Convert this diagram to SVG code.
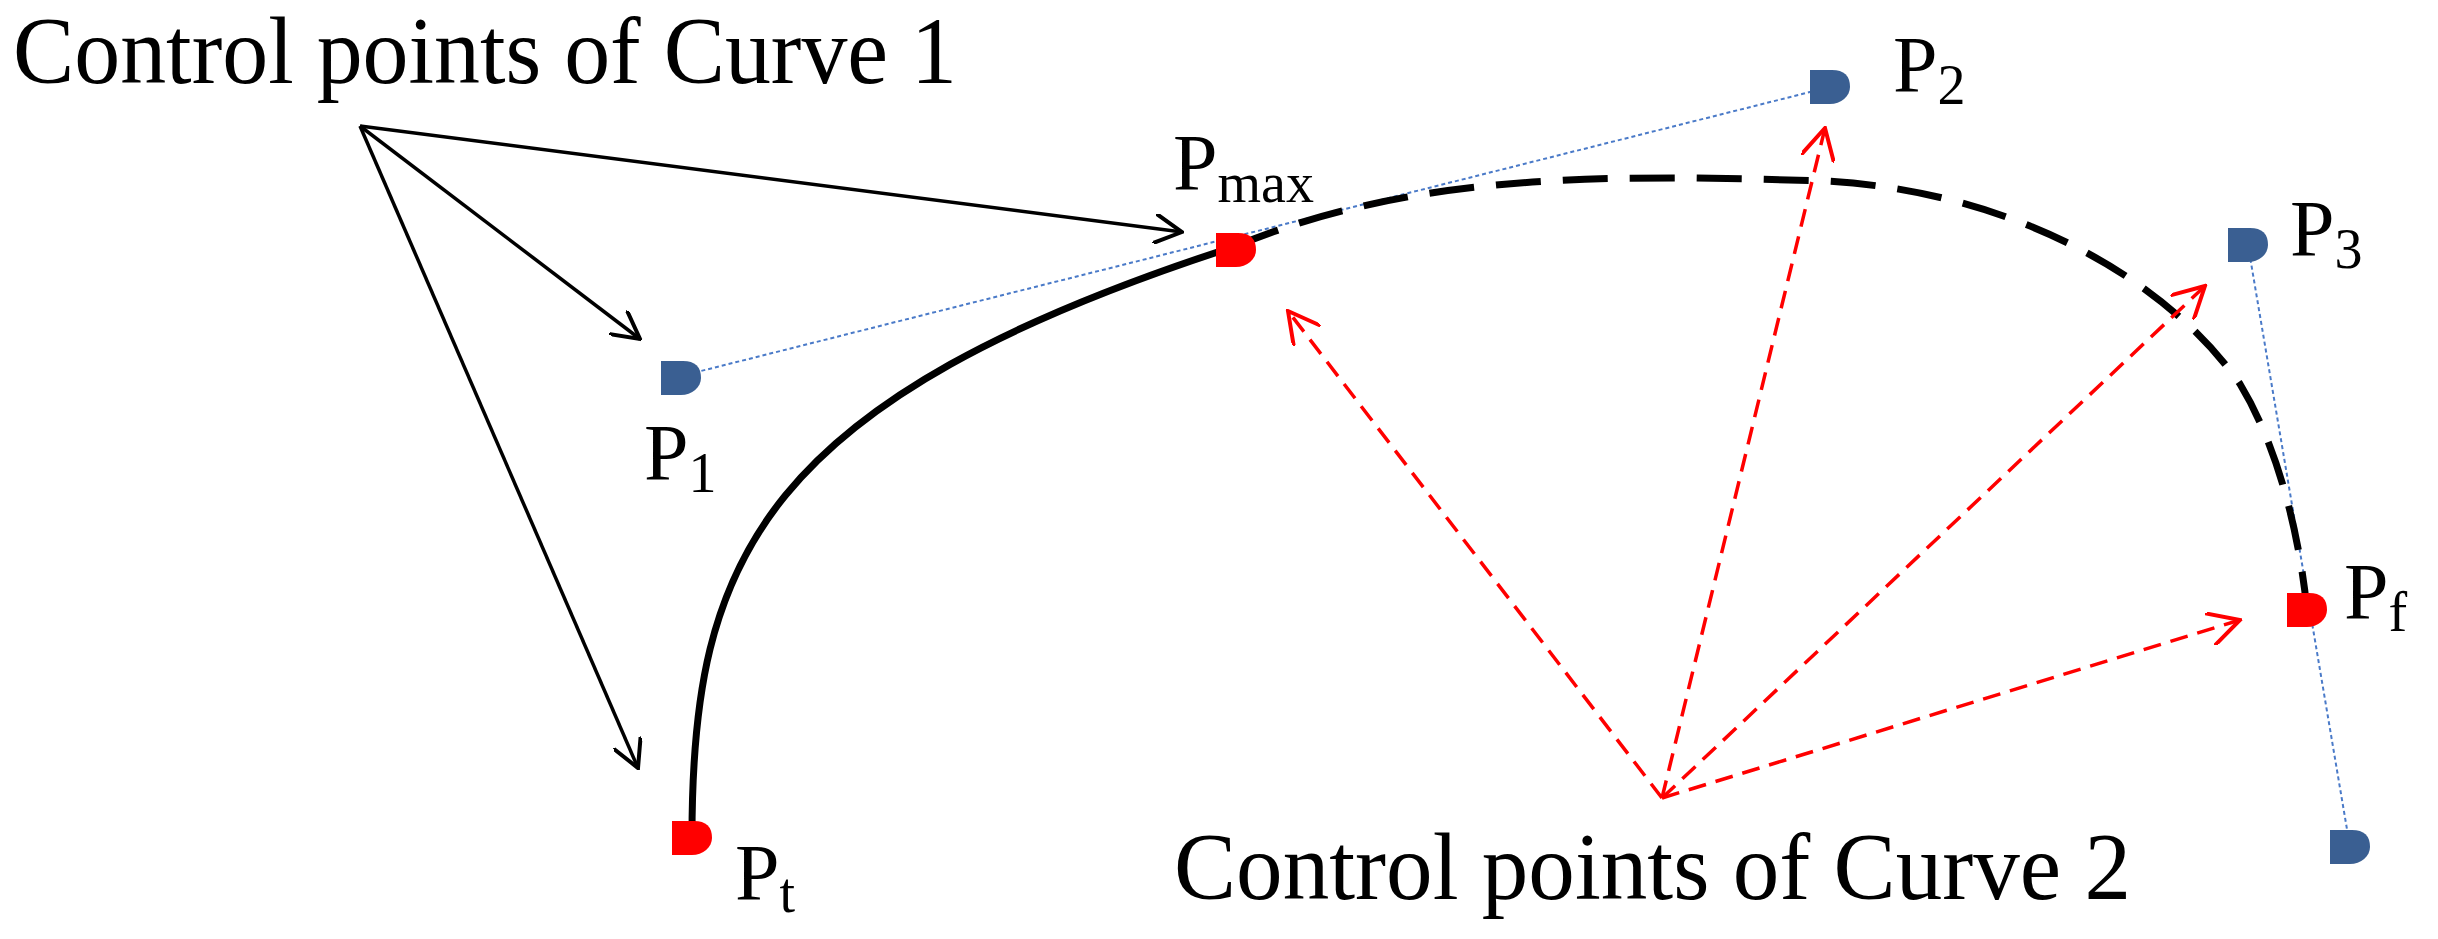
<svg xmlns="http://www.w3.org/2000/svg" width="2438" height="939" viewBox="0 0 2438 939">
<style>
text{font-family:"Liberation Serif",serif;fill:#000}
.t{font-size:96px}.p{font-size:80px}.s{font-size:56px}
.blk{stroke:#000;stroke-width:3.5;fill:none}
.red{stroke:#f00;stroke-width:3.5;fill:none;stroke-dasharray:18 10}
.blu{stroke:#4a7ac8;stroke-width:2;fill:none;stroke-dasharray:4 3}
.cb{fill:#3a5f92}.cr{fill:#f00}
</style>
<defs>
<marker id="ab" viewBox="0 0 30 30" refX="28" refY="15" markerWidth="30" markerHeight="30" markerUnits="userSpaceOnUse" orient="auto"><path d="M0,0 L28,15 L0,30" fill="none" stroke="#000" stroke-width="4"/></marker>
<marker id="ar" viewBox="0 0 30 30" refX="28" refY="15" markerWidth="34" markerHeight="34" markerUnits="userSpaceOnUse" orient="auto"><path d="M0,0 L28,15 L0,30" fill="none" stroke="#f00" stroke-width="3.5"/></marker>
<path id="nd" d="M-20,-17 H2 Q20,-17 20,0 A20,17 0 0 1 0,17 H-20 Z"/>
</defs>
<g id="guides">
<line class="blu" x1="681" y1="376" x2="1830" y2="87"/>
<line class="blu" x1="2248" y1="245" x2="2350" y2="847"/>
</g>
<g id="curves">
<path d="M692,836 C692,560 760,400 1236,246" stroke="#000" stroke-width="7" fill="none"/>
<path d="M1236,246 C1420,170 1620,175 1825,181 C2000,190 2160,270 2240,384 C2280,450 2300,540 2307,610" stroke="#000" stroke-width="7" fill="none" stroke-dasharray="45 22"/>
</g>
<g id="connectors">
<line class="blk" x1="360" y1="126" x2="1182" y2="232" marker-end="url(#ab)"/>
<line class="blk" x1="360" y1="126" x2="640" y2="339" marker-end="url(#ab)"/>
<line class="blk" x1="360" y1="126" x2="638" y2="768" marker-end="url(#ab)"/>
<line class="red" x1="1662" y1="798" x2="1288" y2="311" marker-end="url(#ar)"/>
<line class="red" x1="1662" y1="798" x2="1825" y2="128" marker-end="url(#ar)"/>
<line class="red" x1="1662" y1="798" x2="2205" y2="286" marker-end="url(#ar)"/>
<line class="red" x1="1662" y1="798" x2="2240" y2="620" marker-end="url(#ar)"/>
</g>
<g id="P1"><use href="#nd" class="cb" x="681" y="378"/><text class="p" x="644" y="480">P<tspan class="s" dy="12">1</tspan></text></g>
<g id="Pmax"><use href="#nd" class="cr" x="1236" y="250"/><text class="p" x="1173" y="190">P<tspan class="s" dy="12">max</tspan></text></g>
<g id="P2"><use href="#nd" class="cb" x="1830" y="87"/><text class="p" x="1893" y="92">P<tspan class="s" dy="12">2</tspan></text></g>
<g id="P3"><use href="#nd" class="cb" x="2248" y="245"/><text class="p" x="2290" y="256">P<tspan class="s" dy="12">3</tspan></text></g>
<g id="Pf"><use href="#nd" class="cr" x="2307" y="610"/><text class="p" x="2344" y="619">P<tspan class="s" dy="12">f</tspan></text></g>
<g id="Pt"><use href="#nd" class="cr" x="692" y="838"/><text class="p" x="735" y="900">P<tspan class="s" dy="12">t</tspan></text></g>
<g id="P4"><use href="#nd" class="cb" x="2350" y="847"/></g>
<g id="labels">
<text class="t" x="13" y="83" textLength="944" lengthAdjust="spacingAndGlyphs">Control points of Curve 1</text>
<text class="t" x="1174" y="899" textLength="957" lengthAdjust="spacingAndGlyphs">Control points of Curve 2</text>
</g>
</svg>
